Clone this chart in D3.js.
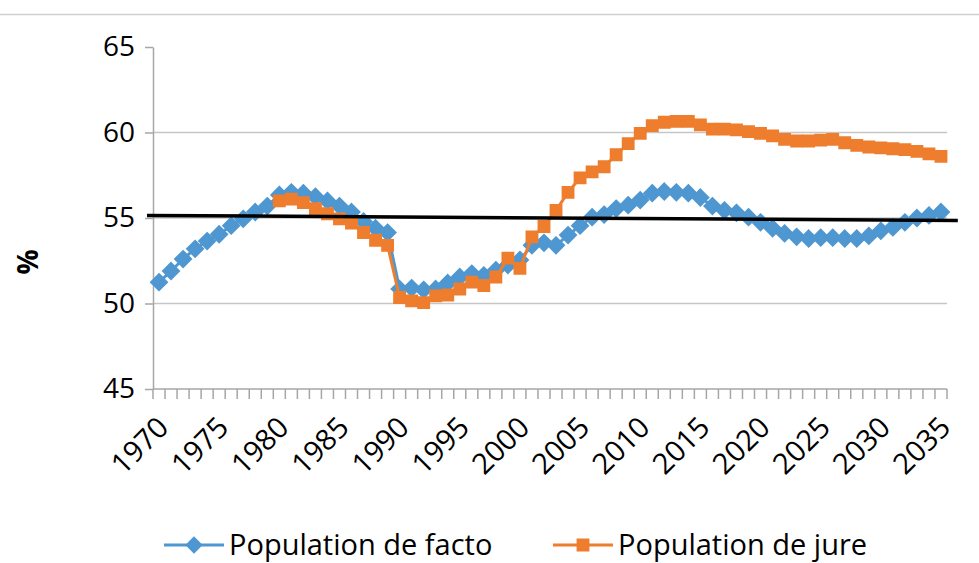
<!DOCTYPE html>
<html>
<head>
<meta charset="utf-8">
<script src="https://cdn.jsdelivr.net/npm/d3@7"></script>
<style>
  body { margin: 0; background: #fff; }
  svg { display: block; font-family: "Open Sans", sans-serif; }
</style>
</head>
<body>
<svg id="drawing_region"></svg>
<script>
// years on the category axis
const years = d3.range(1970, 2036);
const tickYears = [1970, 1975, 1980, 1985, 1990, 1995, 2000, 2005, 2010, 2015, 2020, 2025, 2030, 2035];
const yTicks = [45, 50, 55, 60, 65];

// Population de facto, 1970-2035
const factoValues = [
  51.25, 51.9, 52.6, 53.2, 53.65, 54.05, 54.55, 54.95, 55.35, 55.7,
  56.35, 56.5, 56.45, 56.25, 56.0, 55.7, 55.35, 54.8, 54.4, 54.15,
  50.85, 50.9, 50.8, 50.85, 51.2, 51.55, 51.75, 51.65, 51.95, 52.25,
  52.55, 53.4, 53.55, 53.4, 54.0, 54.55, 55.05, 55.2, 55.55, 55.75,
  56.05, 56.45, 56.55, 56.5, 56.45, 56.2, 55.7, 55.45, 55.3, 55.05,
  54.75, 54.4, 54.1, 53.9, 53.8, 53.85, 53.85, 53.8, 53.8, 53.95,
  54.25, 54.45, 54.75, 55.0, 55.15, 55.35
];

// Population de jure, 1980-2035
const jureYears = d3.range(1980, 2036);
const jureValues = [
  56.0, 56.1, 55.9, 55.55, 55.25, 54.95, 54.7, 54.15, 53.7, 53.4,
  50.35, 50.15, 50.05, 50.45, 50.5, 50.85, 51.25, 51.05, 51.55, 52.65,
  52.05, 53.9, 54.5, 55.45, 56.5, 57.35, 57.7, 58.0, 58.7, 59.35,
  59.95, 60.4, 60.6, 60.65, 60.65, 60.45, 60.2, 60.2, 60.15, 60.05,
  59.95, 59.8, 59.6, 59.5, 59.5, 59.55, 59.6, 59.4, 59.25, 59.15,
  59.1, 59.05, 59.0, 58.9, 58.75, 58.6
];

// black reference line
const trendYears = [1969, 2036.4];
const trendValues = [55.15, 54.85];

const seriesNames = ["Population de facto", "Population de jure"];
const colors = ["#4e97d1", "#ee7d2d"];

const width = 979, height = 563;
const margin = {top: 47, left: 153, right: 32, bottom: 174};
const svg = d3.select('#drawing_region')
  .attr('width', width)
  .attr('height', height);

// thin frame line at top
svg.append('line')
  .attr('x1', 0).attr('x2', width)
  .attr('y1', 14.5).attr('y2', 14.5)
  .attr('stroke', '#d0d0d0').attr('stroke-width', 1.5);

const innerW = width - margin.left - margin.right;
const innerH = height - margin.top - margin.bottom;

const xscale = d3.scaleLinear()
  .domain([years[0] - 0.5, years[years.length - 1] + 0.5])
  .range([margin.left, margin.left + innerW]);
const yscale = d3.scaleLinear()
  .domain([45, 65])
  .range([margin.top + innerH, margin.top]);

// gridlines
svg.append('g')
  .selectAll('line')
  .data(yTicks.filter(d => d > 45 && d < 65))
  .join('line')
  .attr('x1', margin.left).attr('x2', margin.left + innerW)
  .attr('y1', d => yscale(d)).attr('y2', d => yscale(d))
  .attr('stroke', '#c6c6c6').attr('stroke-width', 1.5);

// y axis
const yaxis = d3.axisLeft(yscale)
  .tickValues(yTicks)
  .tickSize(8)
  .tickPadding(10)
  .tickSizeOuter(0);
const yg = svg.append('g')
  .attr('transform', `translate(${margin.left}, 0)`)
  .call(yaxis);
yg.select('.domain').attr('stroke', '#a6a6a6').attr('stroke-width', 1.5);
yg.selectAll('.tick line').attr('stroke', '#a6a6a6').attr('stroke-width', 1.5);
yg.selectAll('.tick text')
  .attr('font-size', 28).attr('fill', '#000')
  .attr('font-family', '"Open Sans", sans-serif');

// x axis: ticks between categories
const xg = svg.append('g');
xg.append('line')
  .attr('x1', margin.left).attr('x2', margin.left + innerW)
  .attr('y1', yscale(45)).attr('y2', yscale(45))
  .attr('stroke', '#a6a6a6').attr('stroke-width', 1.5);
xg.selectAll('.xtick')
  .data(years.concat([years[years.length - 1] + 1]))
  .join('line')
  .attr('class', 'xtick')
  .attr('x1', d => xscale(d - 0.5)).attr('x2', d => xscale(d - 0.5))
  .attr('y1', yscale(45)).attr('y2', yscale(45) + 10)
  .attr('stroke', '#a6a6a6').attr('stroke-width', 1.5);
xg.selectAll('.xlabel')
  .data(tickYears)
  .join('text')
  .attr('class', 'xlabel')
  .attr('transform', d => `translate(${xscale(d) + 4}, ${yscale(45) + 33}) rotate(-45)`)
  .attr('text-anchor', 'end')
  .attr('dy', '0.35em')
  .attr('font-size', 29)
  .text(d => d);

// y title
svg.append('text')
  .attr('transform', `translate(38, 262) rotate(-90)`)
  .attr('text-anchor', 'middle')
  .attr('font-size', 28)
  .attr('font-weight', 'bold')
  .text('%');

// series
const line = d3.line()
  .x(d => xscale(d[0]))
  .y(d => yscale(d[1]));

const factoData = years.map((y, i) => [y, factoValues[i]]);
const jureData = jureYears.map((y, i) => [y, jureValues[i]]);

const diamond = d3.symbol().type(d3.symbolDiamond2).size(135);
const square = d3.symbol().type(d3.symbolSquare2).size(150);

svg.append('path')
  .datum(factoData)
  .attr('d', line)
  .attr('fill', 'none')
  .attr('stroke', colors[0])
  .attr('stroke-width', 3);
svg.append('g')
  .selectAll('path')
  .data(factoData)
  .join('path')
  .attr('transform', d => `translate(${xscale(d[0])}, ${yscale(d[1])})`)
  .attr('d', diamond)
  .attr('fill', colors[0])
  .attr('stroke', colors[0])
  .attr('stroke-width', 3);

svg.append('path')
  .datum(jureData)
  .attr('d', line)
  .attr('fill', 'none')
  .attr('stroke', colors[1])
  .attr('stroke-width', 3);
svg.append('g')
  .selectAll('path')
  .data(jureData)
  .join('path')
  .attr('transform', d => `translate(${xscale(d[0])}, ${yscale(d[1])})`)
  .attr('d', square)
  .attr('fill', colors[1])
  .attr('stroke', colors[1])
  .attr('stroke-width', 2);

// black reference line
svg.append('path')
  .datum(trendYears.map((y, i) => [y, trendValues[i]]))
  .attr('d', line)
  .attr('fill', 'none')
  .attr('stroke', '#000')
  .attr('stroke-width', 3.5);

// legend
const legend = [
  {name: seriesNames[0], color: colors[0], sym: diamond, x: 164},
  {name: seriesNames[1], color: colors[1], sym: square, x: 553}
];
const lg = svg.append('g').selectAll('g')
  .data(legend)
  .join('g')
  .attr('transform', d => `translate(${d.x}, 545)`);
lg.append('line')
  .attr('x1', 0).attr('x2', 60)
  .attr('stroke', d => d.color).attr('stroke-width', 3);
lg.append('path')
  .attr('transform', 'translate(30, 0)')
  .attr('d', d => d.sym())
  .attr('fill', d => d.color)
  .attr('stroke', d => d.color)
  .attr('stroke-width', 2);
lg.append('text')
  .attr('x', 65)
  .attr('dy', '0.33em')
  .attr('font-size', 29)
  .text(d => d.name);
</script>
</body>
</html>
